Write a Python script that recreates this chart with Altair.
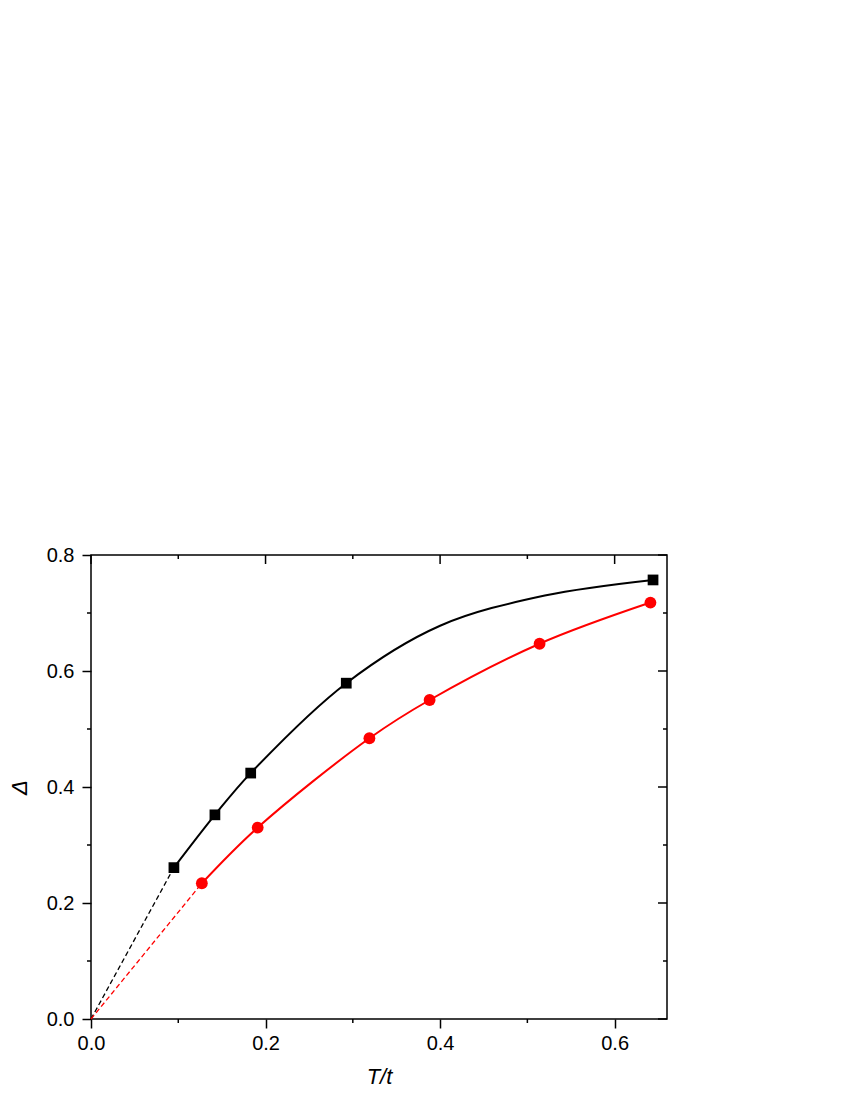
import altair as alt
import pandas as pd

# black squares
sq_x = [0.095, 0.142, 0.183, 0.2925, 0.644]
sq_y = [0.261, 0.352, 0.424, 0.579, 0.757]
# red circles
ci_x = [0.127, 0.191, 0.319, 0.388, 0.514, 0.641]
ci_y = [0.234, 0.330, 0.484, 0.550, 0.647, 0.718]
# black fitted curve
bc_x = [0.095, 0.142, 0.183, 0.2925, 0.40, 0.52, 0.644]
bc_y = [0.261, 0.352, 0.424, 0.579, 0.678, 0.730, 0.757]
# dashed extrapolations to origin
db_x = [0.0, 0.095]
db_y = [0.0, 0.261]
dr_x = [0.0, 0.127]
dr_y = [0.0, 0.234]

major_x = [0.0, 0.2, 0.4, 0.6]
minor_x = [0.1, 0.3, 0.5]
major_y = [0.0, 0.2, 0.4, 0.6, 0.8]
minor_y = [0.1, 0.3, 0.5, 0.7]

W, H = 576, 464
FONT = "Liberation Sans"

xs = alt.Scale(domain=[0, 0.66], nice=False, zero=False)
ys = alt.Scale(domain=[0, 0.8], nice=False, zero=False)

xaxis = alt.Axis(values=major_x, format=".1f", tickSize=9, tickWidth=1.5, tickColor="black",
                 labelFontSize=20, labelFont=FONT, labelColor="black", labelPadding=5,
                 labelFlush=False, labelOverlap=False,
                 domain=False, grid=False, title="T/t", titleFont=FONT, titleFontSize=22,
                 titleFontStyle="italic", titleFontWeight="normal", titleColor="black",
                 titlePadding=13)
yaxis = alt.Axis(values=major_y, format=".1f", tickSize=9, tickWidth=1.5, tickColor="black",
                 labelFontSize=20, labelFont=FONT, labelColor="black", labelPadding=8,
                 labelFlush=False, labelOverlap=False,
                 domain=False, grid=False, title="Δ", titleFont=FONT, titleFontSize=22,
                 titleFontStyle="italic", titleFontWeight="normal", titleColor="black",
                 titlePadding=15)

sq = pd.DataFrame({"x": sq_x, "y": sq_y})
ci = pd.DataFrame({"x": ci_x, "y": ci_y})
bc = pd.DataFrame({"x": bc_x, "y": bc_y})
db = pd.DataFrame({"x": db_x, "y": db_y})
dr = pd.DataFrame({"x": dr_x, "y": dr_y})

base_enc = dict(x=alt.X("x:Q", scale=xs, axis=xaxis), y=alt.Y("y:Q", scale=ys, axis=yaxis))

black_line = alt.Chart(bc).mark_line(color="black", strokeWidth=2, interpolate="catmull-rom").encode(**base_enc)
red_line = alt.Chart(ci).mark_line(color="red", strokeWidth=2, interpolate="catmull-rom").encode(**base_enc)
black_dash = alt.Chart(db).mark_line(color="black", strokeWidth=1.3, strokeDash=[5, 3]).encode(**base_enc)
red_dash = alt.Chart(dr).mark_line(color="red", strokeWidth=1.3, strokeDash=[5, 3]).encode(**base_enc)
squares = alt.Chart(sq).mark_square(color="black", size=115, opacity=1).encode(**base_enc)
circles = alt.Chart(ci).mark_circle(color="red", size=140, opacity=1).encode(**base_enc)

mx = pd.DataFrame({"x": major_x})
nx = pd.DataFrame({"x": minor_x})
my = pd.DataFrame({"y": major_y})
ny = pd.DataFrame({"y": minor_y})
tick_style = dict(color="black", strokeWidth=1.5)

top_major = alt.Chart(mx).mark_rule(**tick_style).encode(x=alt.X("x:Q", scale=xs), y=alt.value(0), y2=alt.value(9))
top_minor = alt.Chart(nx).mark_rule(**tick_style).encode(x=alt.X("x:Q", scale=xs), y=alt.value(0), y2=alt.value(4))
bot_minor = alt.Chart(nx).mark_rule(**tick_style).encode(x=alt.X("x:Q", scale=xs), y=alt.value(H), y2=alt.value(H + 4))
right_major = alt.Chart(my).mark_rule(**tick_style).encode(y=alt.Y("y:Q", scale=ys), x=alt.value(W), x2=alt.value(W - 9))
right_minor = alt.Chart(ny).mark_rule(**tick_style).encode(y=alt.Y("y:Q", scale=ys), x=alt.value(W), x2=alt.value(W - 4))
left_minor = alt.Chart(ny).mark_rule(**tick_style).encode(y=alt.Y("y:Q", scale=ys), x=alt.value(0), x2=alt.value(-4))

chart = alt.layer(
    black_dash, red_dash, black_line, red_line, squares, circles,
    top_major, top_minor, bot_minor, right_major, right_minor, left_minor,
).properties(
    width=W, height=H,
    autosize=alt.AutoSizeParams(type="none"),
    padding={"left": 83, "top": 547, "right": 60, "bottom": 72},
).configure_view(stroke="black", strokeWidth=1.5)

chart.save("out.html", embed_options={"renderer": "svg", "actions": False})
